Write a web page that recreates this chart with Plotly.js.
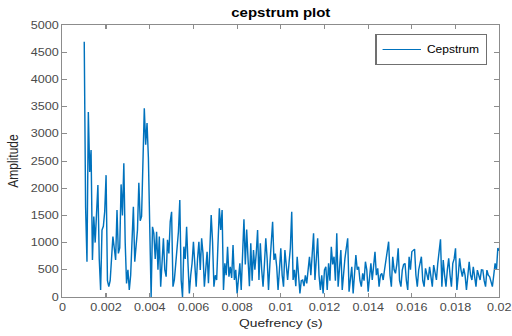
<!DOCTYPE html>
<html>
<head>
<meta charset="utf-8">
<script src="https://cdn.plot.ly/plotly-3.0.1.min.js"></script>
<style>
  html, body { margin: 0; padding: 0; background: #ffffff; overflow: hidden; }
  #frame { width: 512px; height: 336px; overflow: hidden; }
  /* the figure is laid out narrower and widened, which gives the broad lettering */
  #plot { width: 427px; height: 336px; transform: scaleX(1.2); transform-origin: 0 0; }
</style>
</head>
<body>
<div id="frame"><div id="plot"></div></div>
<script>
// Cepstrum magnitude, sampled at 16 kHz, starting at a quefrency of 1 ms
const startQuefrency = 0.001;
const sampleRate = 16000;
const amplitude = [
  4690, 1650, 650, 3400, 2300, 2700, 680, 1480, 1000, 1480,
  2060, 700, 130, 1230, 1300, 1570, 2240, 300, 190, 300,
  680, 1110, 900, 680, 1600, 800, 900, 2070, 1500, 2460,
  1000, 250, 500, 130, 400, 1290, 1660, 650, 1000, 1230,
  2100, 1400, 1480, 2400, 3470, 2800, 3200, 2560, 1570, 0,
  1290, 1170, 700, 1200, 500, 1110, 190, 700, 1080, 500,
  374, 1050, 800, 1385, 1568, 190, 312, 600, 925, 1200,
  1783, 312, 0, 925, 700, 1292, 619, 67, 400, 619,
  1017, 600, 190, 700, 1017, 496, 1078, 800, 190, 500,
  833, 251, 900, 1507, 1017, 190, 400, 312, 986, 1629,
  1231, 1600, 129, 619, 400, 925, 374, 557, 350, 956,
  312, 500, 67, 400, 619, 129, 864, 1428, 600, 1240,
  700, 200, 986, 300, 864, 500, 800, 1231, 312, 986,
  500, 190, 600, 1078, 700, 129, 600, 986, 1385, 680,
  800, 557, 129, 500, 894, 400, 190, 864, 500, 312,
  619, 900, 1568, 312, 500, 200, 741, 400, 67, 300,
  312, 200, 400, 251, 600, 741, 400, 900, 1170, 312,
  700, 1078, 400, 129, 400, 67, 500, 557, 129, 619,
  300, 925, 600, 741, 300, 1170, 190, 500, 864, 129,
  500, 711, 900, 1078, 98, 400, 557, 67, 400, 772,
  500, 557, 300, 190, 435, 300, 649, 500, 98, 400,
  619, 312, 600, 833, 400, 527, 190, 400, 435, 312,
  500, 700, 802, 1017, 400, 190, 741, 500, 435, 600,
  894, 300, 190, 496, 600, 619, 300, 129, 741, 500,
  833, 864, 880, 400, 190, 496, 600, 741, 300, 190,
  527, 400, 312, 557, 400, 190, 588, 400, 312, 619,
  800, 1060, 190, 680, 400, 190, 500, 711, 400, 190,
  619, 700, 894, 129, 400, 711, 500, 374, 527, 400,
  129, 500, 649, 400, 312, 557, 400, 190, 496, 400,
  312, 500, 496, 300, 190, 496, 400, 374, 300, 190,
  400, 619, 500, 900, 850
];
const quefrency = amplitude.map((_, i) => startQuefrency + i / sampleRate);

const xTickValues = [0, 0.002, 0.004, 0.006, 0.008, 0.01, 0.012, 0.014, 0.016, 0.018, 0.02];
const xTickLabels = ['0', '0.002', '0.004', '0.006', '0.008', '0.01', '0.012', '0.014', '0.016', '0.018', '0.02'];
const yTickValues = [0, 500, 1000, 1500, 2000, 2500, 3000, 3500, 4000, 4500, 5000];

const axisColor = '#8c8c8c';
const labelColor = '#4a4a4a';
const fontFamily = '"Liberation Sans", Arial, sans-serif';

const trace = {
  x: quefrency,
  y: amplitude,
  type: 'scatter',
  mode: 'lines',
  name: 'Cepstrum',
  line: { color: '#0072BD', width: 1.2 }
};

const layout = {
  width: 427,
  height: 336,
  margin: { l: 51.7, r: 11, t: 25, b: 39, pad: 0 },
  paper_bgcolor: '#ffffff',
  plot_bgcolor: '#ffffff',
  font: { family: fontFamily, size: 10.5, color: labelColor },
  title: {
    text: '<b>cepstrum plot</b>',
    font: { family: fontFamily, size: 12.5, color: '#000000' },
    x: 0.5, xref: 'paper', xanchor: 'center',
    y: 0.963, yref: 'container', yanchor: 'middle'
  },
  xaxis: {
    range: [0, 0.02],
    tickmode: 'array',
    tickvals: xTickValues,
    ticktext: xTickLabels,
    ticks: 'inside',
    ticklen: 4,
    tickcolor: axisColor,
    showline: true,
    linecolor: axisColor,
    linewidth: 1,
    mirror: 'ticks',
    showgrid: false,
    zeroline: false,
    tickfont: { family: fontFamily, size: 10.5, color: labelColor },
    title: { text: 'Quefrency (s)', font: { family: fontFamily, size: 11.5, color: '#262626' }, standoff: 7 }
  },
  yaxis: {
    range: [0, 5000],
    tickmode: 'array',
    tickvals: yTickValues,
    ticks: 'inside',
    ticklen: 4,
    tickcolor: axisColor,
    showline: true,
    linecolor: axisColor,
    linewidth: 1,
    mirror: 'ticks',
    showgrid: false,
    zeroline: false,
    tickfont: { family: fontFamily, size: 10.5, color: labelColor },
    title: { text: 'Amplitude', font: { family: fontFamily, size: 12, color: '#262626' }, standoff: 7 }
  },
  showlegend: true,
  legend: {
    x: 0.972, xanchor: 'right',
    y: 0.967, yanchor: 'top',
    bgcolor: '#ffffff',
    bordercolor: '#707070',
    borderwidth: 1,
    font: { family: fontFamily, size: 10, color: '#000000' },
    itemwidth: 32,
    tracegroupgap: 0
  }
};

Plotly.newPlot('plot', [trace], layout, { staticPlot: true, displayModeBar: false });
</script>
</body>
</html>
